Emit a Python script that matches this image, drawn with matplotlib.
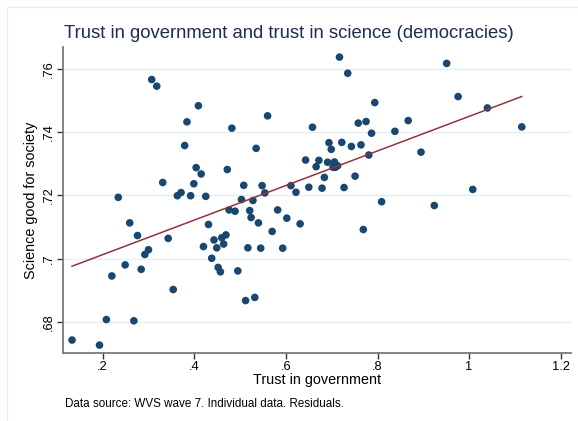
import matplotlib
matplotlib.use("Agg")
import matplotlib.pyplot as plt
import numpy as np
from matplotlib.patches import Rectangle

plt.rcParams['font.family'] = ['Liberation Sans', 'DejaVu Sans']

trust_gov = [0.307, 0.318, 0.384, 0.379, 0.331, 0.234, 0.363, 0.371, 0.392, 0.259,
             0.276, 0.343, 0.300, 0.292, 0.249, 0.220, 0.284, 0.354, 0.208, 0.268,
             0.133, 0.193, 0.409, 0.482, 0.560, 0.535, 0.404, 0.415, 0.472, 0.399,
             0.425, 0.508, 0.548, 0.554, 0.503, 0.528, 0.476, 0.489, 0.521, 0.524,
             0.540, 0.582, 0.602, 0.622, 0.611, 0.631, 0.570, 0.431, 0.443, 0.460,
             0.469, 0.420, 0.449, 0.464, 0.517, 0.545, 0.593, 0.438, 0.452, 0.457,
             0.495, 0.512, 0.532, 0.717, 0.735, 0.794, 0.658, 0.758, 0.775, 0.787,
             0.838, 0.867, 0.694, 0.699, 0.722, 0.743, 0.764, 0.781, 0.643, 0.672,
             0.666, 0.691, 0.706, 0.708, 0.703, 0.713, 0.684, 0.751, 0.650, 0.679,
             0.727, 0.809, 0.769, 0.951, 0.976, 1.040, 1.115, 0.895, 1.008, 0.924]
science_good = [0.7567, 0.7546, 0.7433, 0.7358, 0.7241, 0.7194, 0.7199, 0.7209, 0.7199, 0.7113,
                0.7073, 0.7064, 0.7028, 0.7013, 0.6980, 0.6945, 0.6966, 0.6902, 0.6807, 0.6803,
                0.6742, 0.6726, 0.7484, 0.7413, 0.7452, 0.7349, 0.7288, 0.7268, 0.7282, 0.7237,
                0.7197, 0.7232, 0.7231, 0.7208, 0.7187, 0.7184, 0.7154, 0.7150, 0.7152, 0.7130,
                0.7113, 0.7154, 0.7128, 0.7210, 0.7231, 0.7110, 0.7086, 0.7108, 0.7059, 0.7066,
                0.7075, 0.7038, 0.7034, 0.7046, 0.7034, 0.7033, 0.7033, 0.7001, 0.6972, 0.6958,
                0.6961, 0.6867, 0.6877, 0.7638, 0.7587, 0.7494, 0.7416, 0.7429, 0.7434, 0.7397,
                0.7403, 0.7437, 0.7367, 0.7346, 0.7368, 0.7355, 0.7360, 0.7328, 0.7312, 0.7311,
                0.7291, 0.7305, 0.7306, 0.7289, 0.7289, 0.7294, 0.7257, 0.7261, 0.7226, 0.7223,
                0.7225, 0.7180, 0.7092, 0.7618, 0.7513, 0.7477, 0.7417, 0.7337, 0.7219, 0.7168]

x_ticks = [0.2, 0.4, 0.6, 0.8, 1.0, 1.2]
x_tick_labels = ['.2', '.4', '.6', '.8', '1', '1.2']
y_ticks = [0.68, 0.70, 0.72, 0.74, 0.76]
y_tick_labels = ['.68', '.7', '.72', '.74', '.76']

title = 'Trust in government and trust in science (democracies)'
xlabel = 'Trust in government'
ylabel = 'Science good for society'
note = 'Data source: WVS wave 7. Individual data. Residuals.'

navy = '#1a476f'
maroon = '#90353b'
grid_c = '#e4eef0'
axis_c = '#7a7a7a'

fig = plt.figure(figsize=(5.78, 4.21), dpi=100)
fig.patch.set_facecolor('white')
fig.add_artist(Rectangle((7 / 578, -0.1), 1.2, 1 - 7 / 421 + 0.1, transform=fig.transFigure,
                         fill=False, edgecolor='#e6eef0', linewidth=1.0))

ax = fig.add_axes([63 / 578, 1 - 353 / 421, (571 - 63) / 578, (353 - 47) / 421])
ax.set_facecolor('white')

x = np.array(trust_gov)
y = np.array(science_good)
ax.scatter(x, y, s=30, color=navy, edgecolors='none', zorder=3)

b, a = np.polyfit(x, y, 1)
xs = np.array([x.min(), x.max()])
ax.plot(xs, a + b * xs, color=maroon, linewidth=1.1, zorder=4)

ax.set_xlim(0.1133, 1.2225)
ax.set_ylim(0.6701, 0.767)

ax.set_xticks(x_ticks)
ax.set_xticklabels(x_tick_labels, fontsize=9.3)
ax.set_yticks(y_ticks)
ax.set_yticklabels(y_tick_labels, fontsize=9.3, rotation=90, va='center')

for yt in y_ticks:
    ax.axhline(yt, color=grid_c, linewidth=1.0, zorder=1)

for s in ['top', 'right']:
    ax.spines[s].set_visible(False)
for s in ['left', 'bottom']:
    ax.spines[s].set_color(axis_c)
    ax.spines[s].set_linewidth(1.3)
ax.tick_params(axis='both', direction='out', length=4, width=1.0, color='#333333',
               labelcolor='black', pad=2)

ax.set_xlabel(xlabel, fontsize=10.4, labelpad=0)
ax.set_ylabel(ylabel, fontsize=10.4, labelpad=3)

fig.text(0.5, 1 - 33 / 421, title, ha='center', va='center', fontsize=13.3, color='#1e2d4e')
fig.text(65 / 578, 1 - 404 / 421, note, ha='left', va='center', fontsize=8.4, color='black')

fig.savefig('out.png', dpi=100, facecolor='white')
